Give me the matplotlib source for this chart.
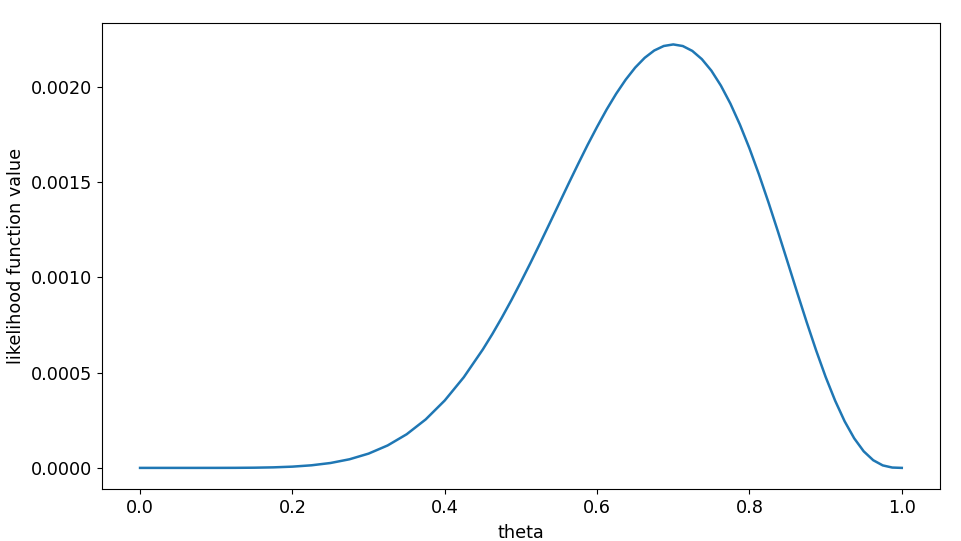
import matplotlib
matplotlib.use("Agg")
import matplotlib.pyplot as plt

theta = [0.0, 0.025, 0.05, 0.075, 0.1, 0.125, 0.15, 0.175, 0.2, 0.225, 0.25, 0.275,
         0.3, 0.325, 0.35, 0.375, 0.4, 0.425, 0.45, 0.4625, 0.475, 0.4875, 0.5, 0.5125,
         0.525, 0.5375, 0.55, 0.5625, 0.575, 0.5875, 0.6, 0.6125, 0.625, 0.6375, 0.65,
         0.6625, 0.675, 0.6875, 0.7, 0.7125, 0.725, 0.7375, 0.75, 0.7625, 0.775, 0.7875,
         0.8, 0.8125, 0.825, 0.8375, 0.85, 0.8625, 0.875, 0.8875, 0.9, 0.9125, 0.925,
         0.9375, 0.95, 0.9625, 0.975, 0.9875, 1.0]
likelihood = [0.0, 0.0, 0.0, 0.00000001, 0.00000007, 0.00000032, 0.00000105, 0.00000282,
              0.00000655, 0.0000136, 0.0000257, 0.0000453, 0.000075, 0.0001178, 0.0001766,
              0.0002546, 0.000354, 0.0004761, 0.000622, 0.0007029, 0.0007895, 0.0008809,
              0.000977, 0.0010759, 0.001178, 0.0012823, 0.001387, 0.0014921, 0.001595,
              0.0016956, 0.001791, 0.0018817, 0.0019645, 0.0020384, 0.002102, 0.0021534,
              0.0021917, 0.0022154, 0.0022236, 0.0022152, 0.0021896, 0.0021465, 0.002086,
              0.0020075, 0.0019128, 0.0018024, 0.001678, 0.0015409, 0.001394, 0.0012401,
              0.001082, 0.000923, 0.000767, 0.0006175, 0.000478, 0.0003529, 0.0002444,
              0.0001554, 0.000087, 0.0000403, 0.0000131, 0.0000018, 0.0]

plt.rcParams['font.size'] = 12.7
fig = plt.figure(figsize=(9.62, 5.41), dpi=100)
ax = fig.add_axes([0.106, 0.096, 0.871, 0.861])
ax.plot(theta, likelihood, color='#1f77b4', linewidth=1.8)
ax.set_xlabel('theta', fontsize=12.7, labelpad=5)
ax.set_ylabel('likelihood function value', fontsize=12.7)
ax.set_xticks([0.0, 0.2, 0.4, 0.6, 0.8, 1.0])
ax.set_xticklabels(['0.0', '0.2', '0.4', '0.6', '0.8', '1.0'])
ax.set_yticks([0.0, 0.0005, 0.001, 0.0015, 0.002])
ax.set_yticklabels(['0.0000', '0.0005', '0.0010', '0.0015', '0.0020'])
fig.savefig('out.png', dpi=100)
